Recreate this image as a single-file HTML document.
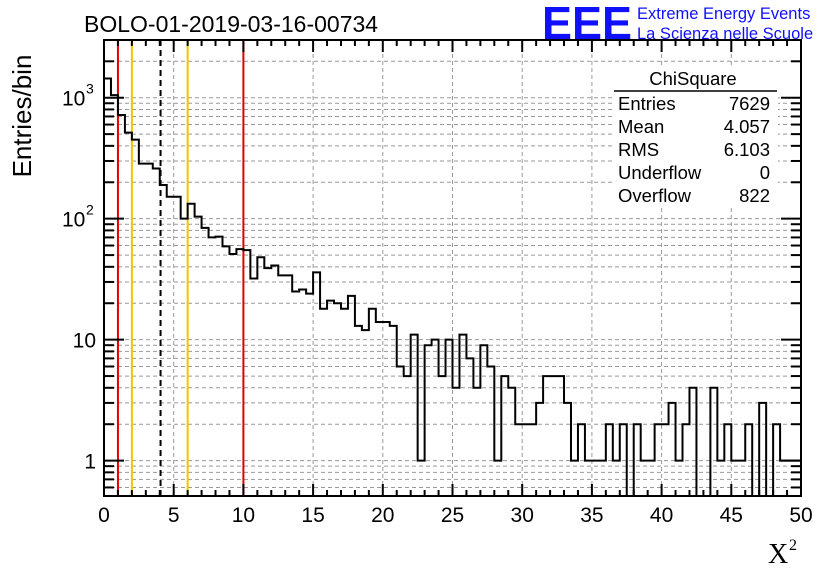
<!DOCTYPE html>
<html><head><meta charset="utf-8"><style>
body{margin:0;background:#fff;}
svg{display:block;font-family:"Liberation Sans",sans-serif;}
</style></head><body>
<svg id="c" width="836" height="572">
</svg>
<script>
const binValues=[1440,1050,720,515,450,285,285,260,190,152,152,100,133,104,84,70,71,59,51,56,55,32,48,39,41,
34,34,25,26,24,36,18,21,20,18,23,13,12,18,14,14,13,6,5,11,1,9,10,5,10,4,11,7,4,9,6,1,5,4,2,2,
2,3,5,5,5,3,1,2,1,1,1,2,1,2,0,2,1,1,2,2,3,1,2,4,0,0,4,1,2,1,1,2,0,3,0,2,1,1,1];
const xTicks=[0,5,10,15,20,25,30,35,40,45,50];
const redLines=[1,10];
const yellowLines=[2,6];
const meanValue=4.057;
const statNames=["Entries","Mean","RMS","Underflow","Overflow"];
const statValues=["7629","4.057","6.103","0","822"];

const NS="http://www.w3.org/2000/svg";
const svg=document.getElementById('c');
const L=104,R=801,T=40,B=496;
const X0=0,X1=50,binW=0.5;
const LOGMIN=Math.log10(0.51),LOGMAX=Math.log10(3000);
const xs=v=>L+(v-X0)/(X1-X0)*(R-L);
const ys=v=>{const lv=Math.log10(Math.max(v,0.0001));const y=B-(lv-LOGMIN)/(LOGMAX-LOGMIN)*(B-T);return Math.min(B,Math.max(T,y));};
function el(tag,attrs,parent){const e=document.createElementNS(NS,tag);for(const k in attrs)e.setAttribute(k,attrs[k]);(parent||svg).appendChild(e);return e;}
function txt(s,attrs){const e=el('text',attrs);e.textContent=s;return e;}

// grid
const grid=el('g',{stroke:'#999','stroke-dasharray':'4,3','stroke-width':1});


xTicks.slice(1,-1).forEach(v=>el('line',{x1:xs(v),x2:xs(v),y1:T,y2:B},grid));
for(let d=-1;d<=3;d++)for(let m=1;m<=9;m++){const v=m*Math.pow(10,d);if(v<0.51||v>3000)continue;el('line',{x1:L,x2:R,y1:ys(v),y2:ys(v)},grid);}

// reference lines
function vline(v,color,dash,name){const l=el('line',{x1:xs(v),x2:xs(v),y1:T,y2:B,stroke:color,'stroke-width':2});if(dash)l.setAttribute('stroke-dasharray',dash);

}
redLines.forEach(v=>vline(v,'#e00000',null,'red-cut-line'));
yellowLines.forEach(v=>vline(v,'#f5c400',null,'yellow-cut-line'));
vline(meanValue,'#000','6,4','mean-line');

// histogram
let d='';
binValues.forEach((v,i)=>{
  const x0=xs(i*binW),x1=xs((i+1)*binW);const y=v>0?ys(v):B;
  d+=(i===0?`M${x0},${B}`:'')+`L${x0},${y}L${x1},${y}`;
});
d+=`L${xs(binValues.length*binW)},${B}`;
const h=el('path',{d:d,fill:'none',stroke:'#000','stroke-width':2});



// frame
const fr=el('rect',{x:L,y:T,width:R-L,height:B-T,fill:'none',stroke:'#000','stroke-width':2});



// x ticks
for(let v=0;v<=50;v++){const len=v%5===0?12:6;
el('line',{x1:xs(v),x2:xs(v),y1:B,y2:B-len,stroke:'#000','stroke-width':2});
el('line',{x1:xs(v),x2:xs(v),y1:T,y2:T+len,stroke:'#000','stroke-width':2});}
xTicks.forEach(v=>{const t=txt(String(v),{x:xs(v),y:522,'font-size':21,'text-anchor':'middle'});

});
// y ticks
for(let dd=-1;dd<=3;dd++)for(let m=1;m<=9;m++){const v=m*Math.pow(10,dd);if(v<0.51||v>3000)continue;const len=m===1?20:10;
el('line',{x1:L,x2:L+len,y1:ys(v),y2:ys(v),stroke:'#000','stroke-width':2});
el('line',{x1:R,x2:R-len,y1:ys(v),y2:ys(v),stroke:'#000','stroke-width':2});}
[[1,'1'],[10,'10']].forEach(([v,s])=>{const t=txt(s,{x:96,y:ys(v)+8,'font-size':21,'text-anchor':'end'});

});
[[100,'2'],[1000,'3']].forEach(([v,s])=>{const g=el('g',{});


const t=el('text',{x:62,y:ys(v)+8,'font-size':21},g);t.textContent='10';
const e=el('text',{x:86,y:ys(v)-4,'font-size':14},g);e.textContent=s;});

// labels
const yt=txt('Entries/bin',{x:0,y:0,'font-size':26,'text-anchor':'middle',transform:'translate(31,116) rotate(-90)'});


const xg=el('g',{});


const xt=el('text',{x:768,y:563,'font-size':28,'font-family':'Liberation Serif, serif'},xg);xt.textContent='X';
const xs2=el('text',{x:789,y:550,'font-size':16,'font-family':'Liberation Serif, serif'},xg);xs2.textContent='2';
const tt=txt('BOLO-01-2019-03-16-00734',{x:84,y:32,'font-size':23});


const lg=txt('EEE',{x:542,y:39,'font-size':46,'font-weight':'bold',fill:'#1010ff',textLength:90,lengthAdjust:'spacingAndGlyphs'});


const l1=txt('Extreme Energy Events',{x:637,y:19,'font-size':16.5,fill:'#1010ff'});


const l2=txt('La Scienza nelle Scuole',{x:637,y:39,'font-size':16.5,fill:'#1010ff'});



// stats box
const sb=el('g',{'font-size':18.5});


el('rect',{x:612,y:66,width:166,height:140,fill:'#fff'},sb);
const st=el('text',{x:693,y:85,'text-anchor':'middle'},sb);st.textContent='ChiSquare';
el('line',{x1:614,x2:777,y1:91,y2:91,stroke:'#000','stroke-width':1.5},sb);
statNames.forEach((n,i)=>{const y=110+i*23;
const a=el('text',{x:618,y:y},sb);a.textContent=n;
const b=el('text',{x:770,y:y,'text-anchor':'end'},sb);b.textContent=statValues[i];});
</script>
</body></html>
